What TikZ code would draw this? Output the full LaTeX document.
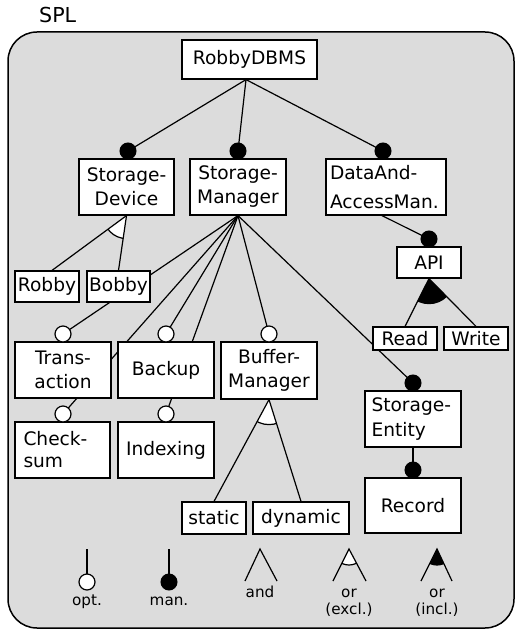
\documentclass[tikz,border=0pt]{standalone}
\usepackage{fontspec}
\setmainfont{DejaVu Sans}
\usetikzlibrary{calc}
\pgfdeclarelayer{back}
\pgfdeclarelayer{edges}
\pgfdeclarelayer{front}
\pgfsetlayers{back,edges,main,front}
\definecolor{splgray}{RGB}{220,220,220}
\newcommand{\featgroup}[5]{%
  \begin{scope}
    \clip (#1) -- ($(#1)!4!(#2)$) -- ($(#1)!4!(#3)$) -- cycle;
    \filldraw[fill=#5, line width=1.2bp] (#1) circle (#4);
  \end{scope}}
\begin{document}
\begin{tikzpicture}[x=1bp,y=-1bp,
  feat/.style={draw, fill=white, line width=1.2bp, inner sep=0pt,
    font=\fontsize{18.6bp}{24bp}\selectfont, align=center},
  lfeat/.style={feat, align=left, minimum height=56bp},
  conn/.style={line width=1.2bp},
  mand/.style={fill=black, draw=black, line width=1bp},
  optc/.style={fill=white, draw=black, line width=1.2bp},
  legtext/.style={font=\fontsize{15.2bp}{17bp}\selectfont, anchor=base, inner sep=0pt},
]
\useasboundingbox (0,0) rectangle (515,630);

% frame
\begin{pgfonlayer}{back}
  \draw[fill=splgray, line width=1.5bp, rounded corners=29bp] (8,32) rectangle (514,628);
\end{pgfonlayer}
\node[font=\fontsize{20.6bp}{24bp}\selectfont, anchor=base west, inner sep=0pt] (spl) at (39,23) {SPL};

% features
\node[feat, minimum width=135bp, minimum height=39bp] (root) at (249.5,59.5) {RobbyDBMS};
\node[feat, minimum width=95bp, minimum height=56bp] (sd) at (126.5,187) {Storage-\\Device};
\node[feat, minimum width=96bp, minimum height=56bp] (sm) at (238,187) {Storage-\\Manager};
\node[lfeat, text width=112bp, inner xsep=4bp, font=\fontsize{18.6bp}{29bp}\selectfont] (da) at (386,187) {DataAnd-\\AccessMan.};
\node[feat, minimum width=64bp, minimum height=31bp] (api) at (429,262.5) {API};
\node[feat, minimum width=64bp, minimum height=23bp] (read) at (405,338.5) {Read};
\node[feat, minimum width=64bp, minimum height=23bp] (write) at (476,338.5) {Write};
\node[feat, minimum width=64bp, minimum height=31bp] (robby) at (47,286.5) {Robby};
\node[feat, minimum width=63bp, minimum height=31bp] (bobby) at (118.5,286.5) {Bobby};
\node[feat, minimum width=96bp, minimum height=56bp] (trans) at (63,370) {Trans-\\action};
\node[feat, minimum width=96bp, minimum height=56bp] (backup) at (166,370) {Backup};
\node[feat, minimum width=96bp, minimum height=57bp] (buffer) at (269,370.5) {Buffer-\\Manager};
\node[lfeat, text width=78bp, inner xsep=8.5bp, font=\fontsize{18.6bp}{22bp}\selectfont] (check) at (62.5,450) {Check-\\sum};
\node[feat, minimum width=96bp, minimum height=56bp] (index) at (166,450) {Indexing};
\node[feat, minimum width=64bp, minimum height=32bp] (static) at (214,518) {static};
\node[feat, minimum width=96bp, minimum height=32bp] (dynamic) at (301,518) {dynamic};
\node[lfeat, text width=83bp, inner xsep=6.5bp, font=\fontsize{18.6bp}{25bp}\selectfont] (se) at (413,419) {Storage-\\Entity};
\node[feat, minimum width=96bp, minimum height=55bp] (record) at (413,505.5) {Record};

% connector end points
\coordinate (rootB) at ($(root.south)+(-3.5,0)$);
\coordinate (daB) at ($(da.south)+(-4,0)$);
\coordinate (robbyT) at ($(robby.north)+(5,0)$);
\coordinate (mSD) at (128,151);
\coordinate (mSM) at (238,151);
\coordinate (mDA) at (383,151);
\coordinate (mAPI) at (429,239);
\coordinate (mSE) at (413,383);
\coordinate (mRec) at (413,470);
\coordinate (oTr) at (63,334);
\coordinate (oBk) at (166,334);
\coordinate (oBM) at (269,334);
\coordinate (oCs) at (63,414);
\coordinate (oIx) at (166,414);

\begin{pgfonlayer}{edges}
  \featgroup{sd.south}{robbyT}{bobby.north}{23}{white}
  \featgroup{api.south}{read.north}{write.north}{25}{black}
  \featgroup{buffer.south}{static.north}{dynamic.north}{25}{white}
  \draw[conn] (rootB) -- (mSD);
  \draw[conn] (rootB) -- (mSM);
  \draw[conn] (rootB) -- (mDA);
  \draw[conn] (sd.south) -- (robbyT);
  \draw[conn] (sd.south) -- (bobby.north);
  \draw[conn] (sm.south) -- (oTr);
  \draw[conn] (sm.south) -- (oCs);
  \draw[conn] (sm.south) -- (oBk);
  \draw[conn] (sm.south) -- (oIx);
  \draw[conn] (sm.south) -- (oBM);
  \draw[conn] (sm.south) -- (mSE);
  \draw[conn] (daB) -- (mAPI);
  \draw[conn] (api.south) -- (read.north);
  \draw[conn] (api.south) -- (write.north);
  \draw[conn] (buffer.south) -- (static.north);
  \draw[conn] (buffer.south) -- (dynamic.north);
  \draw[conn] (se.south) -- (mRec);
\end{pgfonlayer}

\begin{pgfonlayer}{front}
  \foreach \p in {mSD,mSM,mDA,mAPI,mSE,mRec} \filldraw[mand] (\p) circle (8);
  \foreach \p in {oTr,oBk,oBM,oCs,oIx} \filldraw[optc] (\p) circle (8);
\end{pgfonlayer}

% legend
\coordinate (lo1) at (87,549);   \coordinate (lo2) at (87,582);
\coordinate (lm1) at (169,549);  \coordinate (lm2) at (169,582);
\coordinate (la) at (260,549);   \coordinate (lal) at (245,581); \coordinate (lar) at (277,581);
\coordinate (lx) at (349,549);   \coordinate (lxl) at (333,581); \coordinate (lxr) at (366,581);
\coordinate (li) at (437,549);   \coordinate (lil) at (421,581); \coordinate (lir) at (452,581);
\draw[conn] (lo1) -- (lo2);
\filldraw[optc] (lo2) circle (8);
\draw[conn] (lm1) -- (lm2);
\filldraw[mand] (lm2) circle (8);
\draw[conn] (lal) -- (la) -- (lar);
\featgroup{lx}{lxl}{lxr}{16}{white}
\draw[conn] (lxl) -- (lx) -- (lxr);
\featgroup{li}{lil}{lir}{16}{black}
\draw[conn] (lil) -- (li) -- (lir);
\node[legtext] (lopt) at (87,605) {opt.};
\node[legtext] (lman) at (169,605) {man.};
\node[legtext] (land) at (260,597) {and};
\node[legtext] (lor1) at (349,597) {or};
\node[legtext] (lexc) at (349,614) {(excl.)};
\node[legtext] (lor2) at (437,597) {or};
\node[legtext] (linc) at (437,614) {(incl.)};
\end{tikzpicture}
\end{document}
